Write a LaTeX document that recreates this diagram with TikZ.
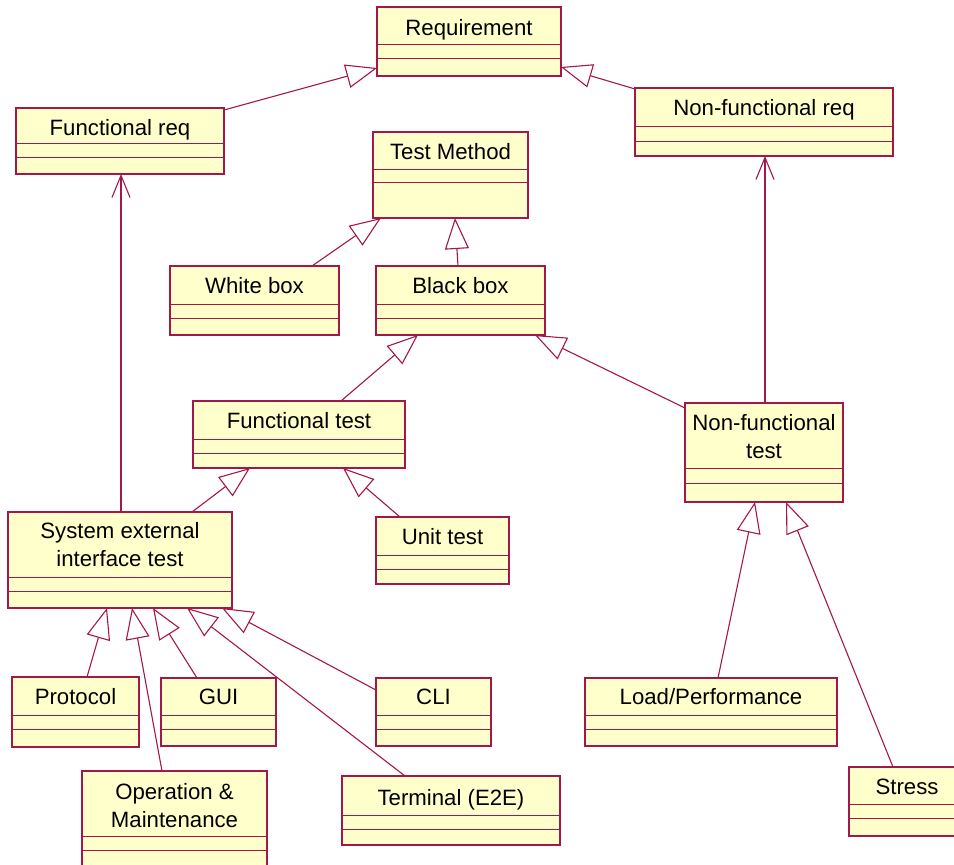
\documentclass[tikz,border=0pt]{standalone}
\usepackage{fontspec}
\setmainfont{Liberation Sans}
\usetikzlibrary{arrows.meta}

\definecolor{umlfill}{HTML}{FFFFCC}
\definecolor{umlline}{HTML}{A3174A}

\tikzset{
  classframe/.style={draw=umlline, fill=umlfill, line width=1.5pt,
    inner sep=0pt, outer sep=0pt, anchor=north west},
  classsec/.style={draw=umlline, line width=1pt},
  classlabel/.style={inner sep=0pt, anchor=base, align=center,
    font=\fontsize{22.2}{28}\selectfont},
  inherit/.style={draw=umlline, line width=1.1pt,
    -{Triangle[open, length=31pt, width=24pt]}},
  assoc/.style={draw=umlline, line width=1.1pt,
    -{Straight Barb[length=22pt, width=18pt]}},
}

% class box: name, left, top, right, bottom, first and second divider,
% baseline of the last label line, label
\newcommand\umlclass[9]{%
  \node[classframe, minimum width={(#4-#2)*1pt}, minimum height={(#5-#3)*1pt}]
    (#1) at (#2,#3) {};
  \draw[classsec] (#2,#6) -- (#4,#6) (#2,#7) -- (#4,#7);
  \node[classlabel] (#1-label) at ({(#2+#4)/2},#8) {#9};
}

\begin{document}
\begin{tikzpicture}[x=1pt, y=-1pt]
  \useasboundingbox (0,0) rectangle (954,865);
  \clip (0,0) rectangle (954,865);

  % classes
  \umlclass{req}{377}{7}{561}{76}{44}{58}{35}{Requirement}
  \umlclass{freq}{16}{108}{224}{174}{143}{157}{135}{Functional req}
  \umlclass{nfreq}{635}{88}{893}{156}{126}{141}{115}{Non-functional req}
  \umlclass{tm}{373}{132}{528}{218}{169}{182}{159}{Test Method}
  \umlclass{wb}{170}{266}{339}{335}{304}{318}{293}{White box}
  \umlclass{bb}{376}{266}{545}{335}{304}{318}{293}{Black box}
  \umlclass{ft}{193}{401}{405}{468}{439}{453}{428}{Functional test}
  \umlclass{nft}{685}{403}{843}{502}{468}{483}{458}{Non-functional\\test}
  \umlclass{sys}{8}{512}{232}{608}{577}{591}{566}{System external\\interface test}
  \umlclass{ut}{376}{517}{509}{584}{555}{569}{544}{Unit test}
  \umlclass{proto}{12}{677}{139}{747}{715}{729}{704}{Protocol}
  \umlclass{gui}{161}{678}{276}{746}{715}{729}{704}{GUI}
  \umlclass{cli}{376}{678}{491}{746}{715}{729}{704}{CLI}
  \umlclass{load}{585}{678}{837}{746}{715}{729}{704}{Load/Performance}
  \umlclass{om}{82}{771}{267}{872}{836}{850}{827}{Operation \&\\Maintenance}
  \umlclass{term}{342}{776}{560}{845}{815}{829}{805}{Terminal (E2E)}
  \umlclass{stress}{849}{767}{965}{836}{804}{818}{794}{Stress}

  % generalizations
  \draw[inherit] ([yshift=-2pt]freq.north east) -- ([yshift=8pt]req.south west);
  \draw[inherit] ([yshift=-1pt]nfreq.north west) -- ([yshift=9pt]req.south east);
  \draw[inherit] ([xshift=142pt]wb.north west) -- ([xshift=8pt]tm.south west);
  \draw[inherit] ([xshift=82pt]bb.north west) -- ([xshift=82pt]tm.south west);
  \draw[inherit] ([xshift=148pt]ft.north west) -- ([xshift=42pt]bb.south west);
  \draw[inherit] ([yshift=-5pt]nft.north west) -- ([xshift=-10pt]bb.south east);
  \draw[inherit] ([xshift=184pt]sys.north west) -- ([xshift=57pt]ft.south west);
  \draw[inherit] ([xshift=24pt]ut.north west) -- ([xshift=150pt]ft.south west);
  \draw[inherit] ([xshift=75pt]proto.north west) -- ([xshift=99pt]sys.south west);
  \draw[inherit] ([xshift=80pt]om.north west) -- ([xshift=124pt]sys.south west);
  \draw[inherit] ([xshift=36pt]gui.north west) -- ([xshift=145pt]sys.south west);
  \draw[inherit] ([xshift=63pt]term.north west) -- ([xshift=179pt]sys.south west);
  \draw[inherit] ([yshift=-12pt]cli.north west) -- ([xshift=214pt]sys.south west);
  \draw[inherit] ([xshift=133pt]load.north west) -- ([xshift=70pt]nft.south west);
  \draw[inherit] ([xshift=44pt]stress.north west) -- ([xshift=101pt]nft.south west);

  % associations
  \draw[assoc] ([xshift=80pt]nft.north west) -- ([xshift=130pt]nfreq.south west);
  \draw[assoc] ([xshift=113pt]sys.north west) -- ([xshift=105pt]freq.south west);
\end{tikzpicture}
\end{document}
